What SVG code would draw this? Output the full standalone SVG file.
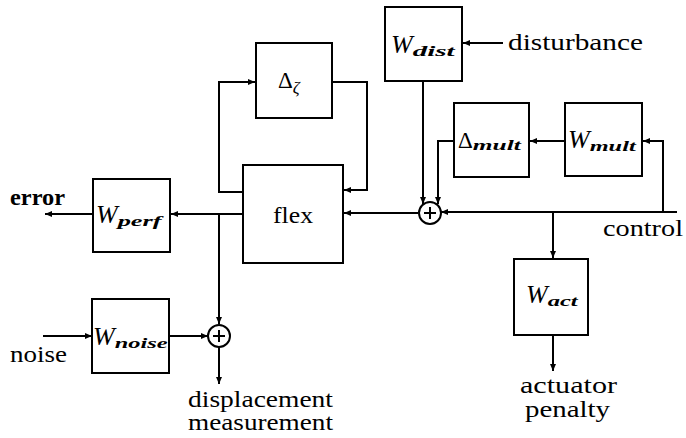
<svg xmlns="http://www.w3.org/2000/svg" width="686" height="438" viewBox="0 0 686 438">
<defs>
<style>
.box{fill:#fff;stroke:#000;stroke-width:2}
.ln{fill:none;stroke:#000;stroke-width:2}
.lbl{font-family:"Liberation Serif","DejaVu Serif",serif;font-size:23px;fill:#000}
.bl{font-weight:bold}
.W{font-family:"Liberation Serif","DejaVu Serif",serif;font-style:italic;font-size:26px;fill:#000}
.sub{font-size:15px;font-weight:bold}
</style>
<marker id="ah" markerWidth="8" markerHeight="8" refX="7" refY="4" orient="auto" markerUnits="userSpaceOnUse">
<path d="M0,1 L7,4 L0,7 Z" fill="#000"/>
</marker>
</defs>
<rect width="686" height="438" fill="#fff"/>
<g id="connectors">
<polyline class="ln" points="243,192 219,192 219,82 255,82" marker-end="url(#ah)"/>
<polyline class="ln" points="332,82 367,82 367,190 344,190" marker-end="url(#ah)"/>
<line class="ln" x1="243" y1="214" x2="171" y2="214" marker-end="url(#ah)"/>
<line class="ln" x1="93" y1="214" x2="45" y2="214" marker-end="url(#ah)"/>
<line class="ln" x1="219" y1="214" x2="219" y2="324" marker-end="url(#ah)"/>
<line class="ln" x1="43" y1="336" x2="92" y2="336" marker-end="url(#ah)"/>
<line class="ln" x1="169" y1="336" x2="208" y2="336" marker-end="url(#ah)"/>
<line class="ln" x1="219" y1="347" x2="219" y2="384" marker-end="url(#ah)"/>
<line class="ln" x1="418" y1="213" x2="344" y2="213" marker-end="url(#ah)"/>
<line class="ln" x1="677" y1="212" x2="441" y2="212" marker-end="url(#ah)"/>
<polyline class="ln" points="663,212 663,141 643,141" marker-end="url(#ah)"/>
<line class="ln" x1="565" y1="141" x2="530" y2="141" marker-end="url(#ah)"/>
<polyline class="ln" points="454,141 438,141 438,204" marker-end="url(#ah)"/>
<line class="ln" x1="423" y1="81" x2="423" y2="204" marker-end="url(#ah)"/>
<line class="ln" x1="503" y1="43" x2="463" y2="43" marker-end="url(#ah)"/>
<line class="ln" x1="553" y1="212" x2="553" y2="258" marker-end="url(#ah)"/>
<line class="ln" x1="553" y1="335" x2="553" y2="371" marker-end="url(#ah)"/>
</g>
<g id="delta_zeta">
<rect class="box" x="256" y="43" width="76" height="75"/>
<text class="lbl" x="278" y="88" font-size="26">Δ<tspan font-style="italic" font-size="17" dy="5">ζ</tspan></text>
</g>
<g id="flex">
<rect class="box" x="243" y="165" width="100" height="98"/>
<text class="lbl" x="273" y="223" textLength="40" lengthAdjust="spacingAndGlyphs" font-size="24">flex</text>
</g>
<g id="W_perf">
<rect class="box" x="93" y="179" width="77" height="73"/>
<text class="W" x="96" y="223">W<tspan class="sub" dy="3" textLength="44" lengthAdjust="spacingAndGlyphs">perf</tspan></text>
</g>
<g id="W_noise">
<rect class="box" x="92" y="299" width="77" height="74"/>
<text class="W" x="93" y="345">W<tspan class="sub" dy="3" textLength="53" lengthAdjust="spacingAndGlyphs">noise</tspan></text>
</g>
<g id="sum1">
<circle class="box" cx="219" cy="336" r="11"/>
<path class="ln" d="M213,336 H225 M219,330 V342"/>
</g>
<g id="W_dist">
<rect class="box" x="385" y="7" width="77" height="74"/>
<text class="W" x="391" y="53">W<tspan class="sub" dy="3" textLength="42" lengthAdjust="spacingAndGlyphs">dist</tspan></text>
</g>
<g id="delta_mult">
<rect class="box" x="454" y="103" width="75" height="74"/>
<text class="lbl" x="458" y="148" font-size="24">Δ<tspan class="sub" font-style="italic" dy="2" textLength="48" lengthAdjust="spacingAndGlyphs">mult</tspan></text>
</g>
<g id="W_mult">
<rect class="box" x="565" y="103" width="77" height="73"/>
<text class="W" x="568" y="148">W<tspan class="sub" dy="3" textLength="46" lengthAdjust="spacingAndGlyphs">mult</tspan></text>
</g>
<g id="sum2">
<circle class="box" cx="430" cy="213" r="11"/>
<path class="ln" d="M424,213 H436 M430,207 V219"/>
</g>
<g id="W_act">
<rect class="box" x="514" y="259" width="74" height="76"/>
<text class="W" x="526" y="303">W<tspan class="sub" dy="3" textLength="30" lengthAdjust="spacingAndGlyphs">act</tspan></text>
</g>
<g id="labels">
<text class="lbl bl" x="10" y="205" textLength="55" lengthAdjust="spacingAndGlyphs">error</text>
<text class="lbl" x="10" y="362" textLength="57" lengthAdjust="spacingAndGlyphs">noise</text>
<text class="lbl" x="508" y="50" textLength="135" lengthAdjust="spacingAndGlyphs" font-size="25">disturbance</text>
<text class="lbl" x="603" y="236" textLength="80" lengthAdjust="spacingAndGlyphs">control</text>
<text class="lbl" x="188" y="407" textLength="145" lengthAdjust="spacingAndGlyphs">displacement</text>
<text class="lbl" x="188" y="430" textLength="145" lengthAdjust="spacingAndGlyphs">measurement</text>
<text class="lbl" x="520" y="393" textLength="97" lengthAdjust="spacingAndGlyphs">actuator</text>
<text class="lbl" x="525" y="417" textLength="85" lengthAdjust="spacingAndGlyphs">penalty</text>
</g>
</svg>
